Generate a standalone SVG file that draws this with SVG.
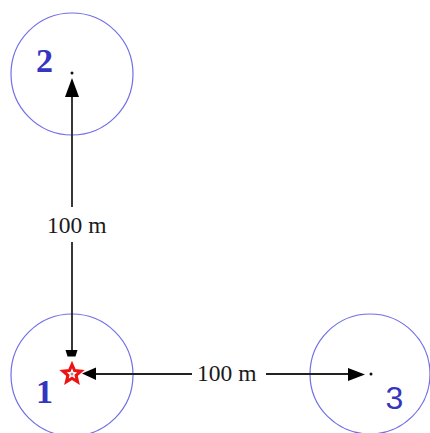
<svg xmlns="http://www.w3.org/2000/svg" width="430" height="433" viewBox="0 0 430 433">
<style>
.ring{fill:none;stroke:#6f6fe6;stroke-width:1.2}
.num{fill:#3535c0;font-weight:bold}
.serif{font-family:"Liberation Serif","Times New Roman",serif}
.sans{font-family:"Liberation Sans",Arial,sans-serif;font-weight:normal}
.lbl{font-family:"Liberation Serif","Times New Roman",serif;font-size:23.5px;fill:#1a1a1a}
.ln{stroke:#222;stroke-width:1.8;fill:none}
.head{fill:#000}
.dot{fill:#111}
</style>
<rect width="430" height="433" fill="#fff"/>
<g id="node-2">
<circle class="ring" cx="72" cy="74" r="61"/>
<circle class="dot" cx="72" cy="73" r="1.5"/>
<text class="num serif" x="36" y="72" font-size="34">2</text>
</g>
<g id="node-1">
<circle class="ring" cx="72" cy="375" r="61"/>
<text class="num serif" x="36" y="403" font-size="34">1</text>
</g>
<g id="node-3">
<circle class="ring" cx="370" cy="374" r="60"/>
<circle class="dot" cx="371" cy="374" r="1.5"/>
<text class="num sans" x="385.5" y="409" font-size="32">3</text>
</g>
<g id="connectors">
<line class="ln" x1="72" y1="96" x2="72" y2="207"/>
<line class="ln" x1="72" y1="242" x2="72" y2="351"/>
<polygon class="head" points="72,78 65,97 79,97"/>
<polygon class="head" points="65.5,350 77.5,350 75.5,356.5 67.5,356.5"/>
<line class="ln" x1="94" y1="374" x2="192" y2="374"/>
<line class="ln" x1="266" y1="374" x2="350" y2="374"/>
<polygon class="head" points="82,373.5 96,367.5 96,380"/>
<polygon class="head" points="365,374.5 348,368 348,381"/>
<text class="lbl" x="47" y="233">100 m</text>
<text class="lbl" x="197" y="380.5">100 m</text>
</g>
<g id="origin-star">
<polygon points="72,364.5 74.6,370.6 81,371.2 76.1,375.4 77.6,381.8 72,378.3 66.4,381.8 67.9,375.4 63,371.2 69.4,370.6" fill="#fff" stroke="#ee1111" stroke-width="3" stroke-linejoin="miter"/>
<circle cx="72" cy="374" r="1.5" fill="#999"/>
</g>
</svg>
